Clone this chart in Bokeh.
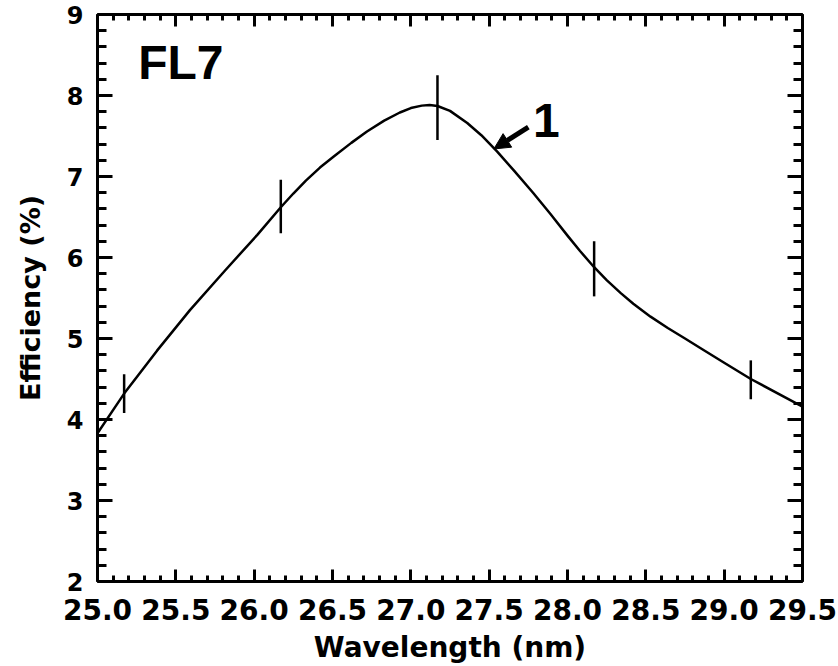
from bokeh.plotting import figure
from bokeh.models import (LinearAxis, FixedTicker, Range1d, Arrow, NormalHead,
                          CustomJSTickFormatter)
from bokeh.core.properties import value
from bokeh.embed import file_html
from bokeh.resources import INLINE

# --- data ---
curve_x = [25.00, 25.17, 25.38, 25.59, 25.81, 26.02, 26.17, 26.25, 26.33, 26.42,
           26.51, 26.62, 26.72, 26.83, 26.93, 27.00, 27.07, 27.12, 27.17, 27.25,
           27.36, 27.45, 27.55, 27.66, 27.78, 27.89, 28.00, 28.08, 28.17, 28.25,
           28.34, 28.42, 28.53, 28.64, 28.75, 28.85, 29.00, 29.17, 29.50]
curve_y = [3.83, 4.32, 4.85, 5.35, 5.83, 6.28, 6.62, 6.79, 6.95, 7.11,
           7.25, 7.415, 7.555, 7.69, 7.79, 7.845, 7.875, 7.882, 7.87, 7.81,
           7.66, 7.51, 7.31, 7.07, 6.80, 6.54, 6.27, 6.08, 5.88, 5.72,
           5.56, 5.43, 5.27, 5.13, 5.00, 4.88, 4.70, 4.50, 4.16]

meas_x = [25.17, 26.17, 27.17, 28.17, 29.17]
meas_y = [4.32, 6.63, 7.85, 5.86, 4.49]
meas_err = [0.24, 0.33, 0.40, 0.34, 0.24]

x_major = [25.0, 25.5, 26.0, 26.5, 27.0, 27.5, 28.0, 28.5, 29.0, 29.5]
x_minor = [round(25.0 + 0.1 * i, 2) for i in range(46)]
y_major = [2, 3, 4, 5, 6, 7, 8, 9]
y_minor = [round(2 + 0.2 * i, 2) for i in range(36)]

panel_label = "FL7"
panel_label_pos = (25.26, 8.41)
curve_label = "1"
curve_label_pos = (27.78, 7.69)
arrow_tail = (27.75, 7.61)
arrow_head = (27.53, 7.34)

x_title = "Wavelength (nm)"
y_title = "Efficiency (%)"

# --- figure ---
p = figure(width=838, height=666, output_backend="svg", toolbar_location=None,
           x_range=Range1d(25.0, 29.5), y_range=Range1d(2, 9),
           x_axis_location=None, y_axis_location=None,
           min_border_left=97, min_border_right=36,
           min_border_top=14, min_border_bottom=84)
p.xgrid.visible = False
p.ygrid.visible = False
p.outline_line_color = None
p.background_fill_color = "white"
p.border_fill_color = "white"

tick_font = "DejaVu Sans"

def style_axis(ax, major_in, minor_in, show_labels, font_size):
    ax.axis_line_width = 3
    ax.axis_line_color = "black"
    ax.major_tick_line_width = 3
    ax.minor_tick_line_width = 3
    ax.major_tick_in = major_in
    ax.major_tick_out = 0
    ax.minor_tick_in = minor_in
    ax.minor_tick_out = 0
    ax.major_label_text_font = tick_font
    ax.major_label_text_font_style = "bold"
    ax.major_label_text_color = "black"
    ax.axis_label_text_color = "black"
    if show_labels:
        ax.major_label_text_font_size = font_size
    else:
        ax.major_label_text_font_size = "0px"
        ax.major_label_standoff = 0

xt = FixedTicker(ticks=x_major, minor_ticks=x_minor)
yt = FixedTicker(ticks=y_major, minor_ticks=y_minor)

xb = LinearAxis(ticker=xt, axis_label=x_title)
style_axis(xb, 12, 6, True, "28px")
xb.formatter = CustomJSTickFormatter(code="return tick.toFixed(1);")
xb.major_label_standoff = 17
xb.axis_label_text_font = tick_font
xb.axis_label_text_font_size = "28px"
xb.axis_label_text_font_style = "bold"
xb.axis_label_standoff = 8
p.add_layout(xb, "below")

xa = LinearAxis(ticker=xt)
style_axis(xa, 12, 6, False, "0px")
p.add_layout(xa, "above")

yl = LinearAxis(ticker=yt, axis_label=y_title)
style_axis(yl, 15, 9, True, "24px")
yl.major_label_standoff = 14
yl.axis_label_text_font = tick_font
yl.axis_label_text_font_size = "27px"
yl.axis_label_text_font_style = "bold"
yl.axis_label_standoff = 18
p.add_layout(yl, "left")

yr = LinearAxis(ticker=yt)
style_axis(yr, 15, 9, False, "0px")
p.add_layout(yr, "right")

# curve and error bars
p.line(curve_x, curve_y, line_color="black", line_width=2.5, line_join="round")
p.segment(x0=meas_x, y0=[y - e for y, e in zip(meas_y, meas_err)],
          x1=meas_x, y1=[y + e for y, e in zip(meas_y, meas_err)],
          line_color="black", line_width=2.5)

# labels
p.text(x=[panel_label_pos[0]], y=[panel_label_pos[1]], text=[panel_label],
       text_font=value("Liberation Sans"), text_font_style="bold",
       text_font_size="48px", text_color="black",
       text_align="left", text_baseline="alphabetic")
p.text(x=[curve_label_pos[0]], y=[curve_label_pos[1]], text=[curve_label],
       text_font=value("Liberation Sans"), text_font_style="bold",
       text_font_size="48px", text_color="black",
       text_align="left", text_baseline="alphabetic")

p.add_layout(Arrow(x_start=arrow_tail[0], y_start=arrow_tail[1],
                   x_end=arrow_head[0], y_end=arrow_head[1],
                   line_width=5, line_color="black",
                   end=NormalHead(size=16, fill_color="black", line_color="black",
                                  line_width=1)))

open("out.html", "w").write(file_html(p, INLINE))
